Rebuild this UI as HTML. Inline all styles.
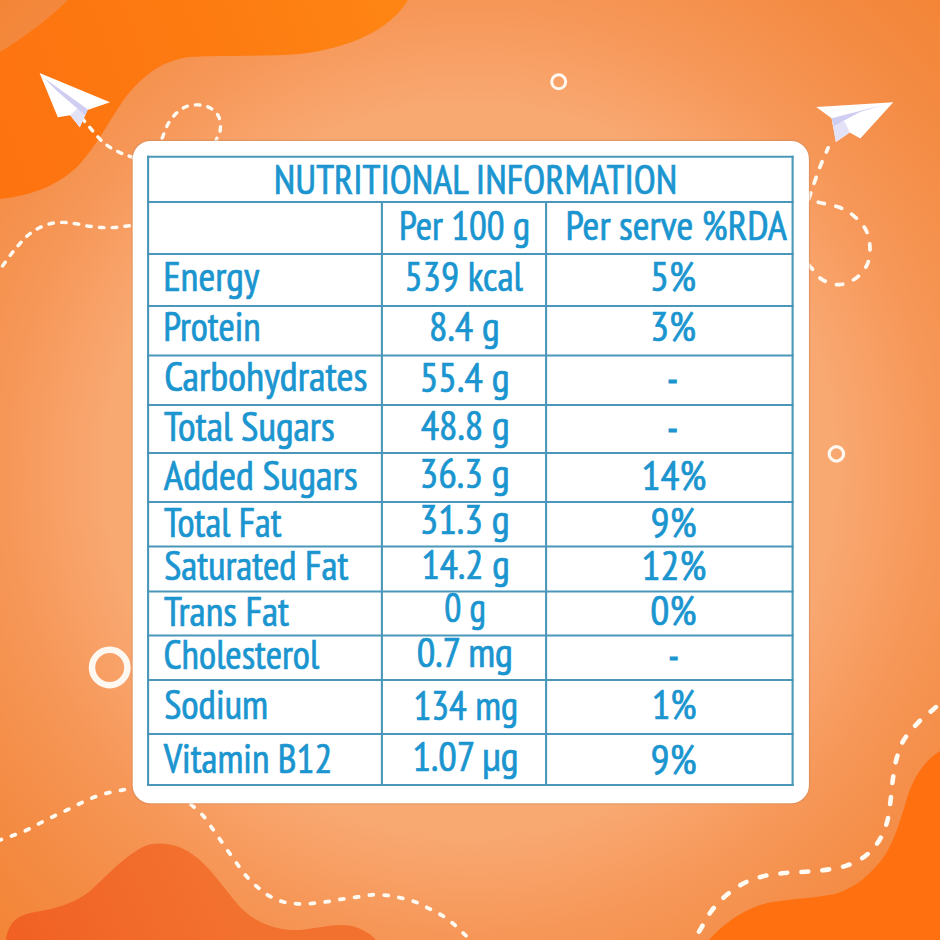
<!DOCTYPE html>
<html><head><meta charset="utf-8"><title>Nutritional Information</title>
<style>
html,body{margin:0;padding:0;width:940px;height:940px;overflow:hidden;background:#f59a5c;}
svg{display:block;}
.t text{font-family:'PT Sans Narrow', 'Liberation Sans', sans-serif;font-size:41.6px;fill:#1b95cf;stroke:#1b95cf;stroke-width:0.7px;}
</style></head><body>
<svg width="940" height="940" viewBox="0 0 940 940">
<defs>
<radialGradient id="bg" cx="470" cy="470" r="665" gradientUnits="userSpaceOnUse">
<stop offset="0" stop-color="#fab27e"/>
<stop offset="0.55" stop-color="#f8a871"/>
<stop offset="0.62" stop-color="#f8a066"/>
<stop offset="0.70" stop-color="#f69758"/>
<stop offset="0.85" stop-color="#f48c45"/>
<stop offset="1" stop-color="#f38536"/>
</radialGradient>
<linearGradient id="tl" x1="0" y1="150" x2="400" y2="0" gradientUnits="userSpaceOnUse">
<stop offset="0" stop-color="#fd7310"/><stop offset="0.5" stop-color="#fd7a11"/><stop offset="1" stop-color="#fe8514"/>
</linearGradient>
<linearGradient id="bl" x1="0" y1="940" x2="200" y2="850" gradientUnits="userSpaceOnUse">
<stop offset="0" stop-color="#f06022"/><stop offset="1" stop-color="#f3712f"/>
</linearGradient>
</defs>
<rect width="940" height="940" fill="url(#bg)"/>
<!-- blobs -->
<path fill="url(#tl)" d="M0 52 C20 40 45 22 68 0 L408 0 C390 30 350 48 300 54 C260 57 215 55 190 57 C160 60 138 80 123 101 C108 123 96 146 79 165 C60 184 35 195 0 199 Z"/>
<path fill="url(#bl)" d="M6 940 C8 925 15 915 35 912 C55 909 75 903 90 891 C105 878 125 855 145 846 C160 841 178 844 192 854 C210 866 225 890 240 907 C255 922 275 931 300 930 C320 928 335 923 352 926 C363 929 371 934 376 940 Z"/>
<path fill="#fe7010" d="M940 751 C925 760 914 777 908 795 C902 815 895 840 885 855 C872 874 855 888 835 894 C810 899 780 899 760 905 C740 912 722 925 709 940 L940 940 Z"/>
<!-- dashed paths -->
<g fill="none" stroke="#fffaf2" stroke-linecap="round">
<path stroke-width="3.4" stroke-dasharray="4.60 7.79" stroke-dashoffset="1.84" d="M82.9 119.4 C85.6 122.5 88.2 125.6 91.0 128.8 C93.8 132.0 96.6 135.8 99.6 138.8 C102.6 141.8 105.5 144.3 108.9 146.6 C112.3 148.9 116.3 150.9 120.0 152.6 C123.7 154.3 127.1 155.3 130.8 156.7 C134.5 158.1 138.5 159.6 142.4 161.1"/>
<path stroke-width="3.4" stroke-dasharray="4.60 7.95" stroke-dashoffset="2.24" d="M158.2 147.7 C159.8 143.9 161.3 140.2 162.9 136.3 C164.5 132.4 165.7 128.2 167.7 124.6 C169.7 121.0 172.2 117.4 175.1 114.5 C178.0 111.6 181.4 108.6 185.2 107.0 C189.0 105.4 193.8 104.7 198.0 104.9 C202.2 105.1 206.8 106.0 210.2 108.0 C213.6 110.0 217.0 113.0 218.7 116.6 C220.4 120.2 220.7 125.7 220.3 129.4 C220.0 133.1 218.0 135.5 216.6 139.0 C215.2 142.5 213.6 146.7 212.2 150.5"/>
<path stroke-width="3.4" stroke-dasharray="4.60 8.15" stroke-dashoffset="0.96" d="M-4.4 275.4 C-1.9 271.9 0.5 268.7 3.2 265.0 C5.9 261.3 9.2 256.6 12.0 253.0 C14.8 249.4 17.2 246.6 20.0 243.5 C22.8 240.4 25.5 237.3 28.7 234.7 C31.9 232.1 35.3 229.9 39.0 228.0 C42.7 226.1 46.9 224.4 51.0 223.5 C55.1 222.6 59.6 222.3 63.8 222.4 C68.0 222.5 72.2 223.2 76.4 223.8 C80.6 224.4 84.5 225.6 88.7 226.2 C92.9 226.8 97.2 227.3 101.5 227.5 C105.8 227.7 110.5 227.8 114.7 227.5 C119.0 227.2 122.8 226.5 127.0 226.0 C131.2 225.5 135.5 225.0 139.8 224.4"/>
<path stroke-width="3.7" stroke-dasharray="6.30 10.44" stroke-dashoffset="1.74" d="M828.2 147.8 C825.6 153.7 822.8 159.9 820.5 165.6 C818.2 171.3 816.3 177.0 814.6 181.8 C812.9 186.6 811.9 189.8 810.3 194.5 C808.7 199.2 806.7 205.0 805.0 210.3"/>
<path stroke-width="3.7" stroke-dasharray="6.30 11.56" stroke-dashoffset="3.45" d="M804.3 198.9 C810.0 200.2 815.6 201.6 821.4 203.0 C827.2 204.4 833.8 205.2 839.2 207.3 C844.6 209.4 849.3 212.1 853.7 215.8 C858.1 219.5 862.9 224.3 865.6 229.4 C868.3 234.5 869.6 240.6 869.9 246.4 C870.2 252.2 869.6 259.1 867.3 264.3 C865.0 269.6 860.9 274.5 856.2 277.9 C851.5 281.3 844.9 284.4 839.2 284.7 C833.5 285.0 826.9 282.4 822.2 279.6 C817.5 276.8 815.0 271.8 811.2 267.7 C807.4 263.6 803.2 259.1 799.2 254.8"/>
<path stroke-width="3.8" stroke-dasharray="4.00 10.82" stroke-dashoffset="3.41" d="M-13.2 844.7 C-8.6 843.1 -3.7 841.4 0.7 839.8 C5.1 838.2 9.1 836.9 13.4 835.3 C17.8 833.7 22.4 832.1 26.8 830.1 C31.2 828.1 35.1 825.6 39.5 823.4 C43.9 821.2 48.3 818.9 52.9 816.7 C57.5 814.5 62.4 812.2 67.0 810.0 C71.6 807.8 75.9 805.4 80.4 803.3 C84.9 801.2 89.2 799.0 93.8 797.3 C98.4 795.6 103.2 794.1 108.0 792.9 C112.8 791.7 118.0 790.9 122.9 789.9 C127.8 788.9 132.5 788.0 137.3 787.0"/>
<path stroke-width="3.8" stroke-dasharray="4.00 10.88" stroke-dashoffset="2.49" d="M182.1 795.9 C185.7 799.3 189.3 802.8 192.9 806.1 C196.5 809.4 200.2 812.3 203.4 816.0 C206.6 819.7 209.4 824.3 212.2 828.3 C215.0 832.3 217.6 836.0 220.4 840.0 C223.2 844.0 226.1 848.4 229.0 852.5 C231.9 856.6 234.7 860.5 237.6 864.5 C240.5 868.5 243.2 872.5 246.5 876.2 C249.8 879.9 253.4 883.6 257.1 886.8 C260.8 890.0 264.6 893.1 268.8 895.6 C273.1 898.1 277.8 900.3 282.6 901.7 C287.4 903.1 292.4 903.5 297.4 903.8 C302.3 904.1 307.3 903.8 312.3 903.4 C317.3 903.0 322.2 902.4 327.2 901.7 C332.2 901.0 337.1 899.9 342.1 899.1 C347.1 898.3 352.0 897.7 357.0 897.0 C362.0 896.3 367.0 895.1 371.9 894.8 C376.8 894.5 381.8 894.8 386.6 895.3 C391.4 895.8 395.9 896.8 400.6 897.9 C405.3 899.0 410.1 900.0 414.7 901.7 C419.3 903.4 423.6 905.9 428.1 908.1 C432.6 910.3 437.2 912.5 441.5 915.1 C445.8 917.8 449.8 920.8 453.6 924.0 C457.4 927.2 460.9 930.9 464.5 934.3 C468.1 937.7 471.7 941.1 475.3 944.5"/>
<path stroke-width="4.6" stroke-dasharray="6.90 14.13" stroke-dashoffset="3.22" d="M949.3 695.4 C944.0 700.0 938.8 704.5 933.5 709.2 C928.2 713.9 922.4 718.1 917.4 723.3 C912.4 728.5 907.0 734.6 903.5 740.5 C900.0 746.4 898.4 752.3 896.6 758.7 C894.8 765.1 893.9 772.1 892.9 779.0 C891.9 785.9 891.5 793.1 890.6 800.2 C889.7 807.3 889.1 814.7 887.2 821.5 C885.3 828.3 882.7 835.0 879.0 840.8 C875.3 846.6 870.6 852.0 865.2 856.1 C859.8 860.2 853.2 863.3 846.6 865.6 C840.0 867.9 832.6 868.9 825.6 869.9 C818.6 870.9 811.7 871.3 804.8 871.8 C797.9 872.3 790.9 872.2 784.0 873.0 C777.1 873.8 770.0 874.5 763.2 876.3 C756.4 878.0 749.5 880.3 743.3 883.5 C737.1 886.7 731.5 890.8 726.2 895.3 C720.9 899.8 715.9 905.0 711.7 910.6 C707.5 916.2 704.4 922.7 700.8 928.7 C697.2 934.7 693.6 940.7 690.0 946.7"/>
</g>
<!-- rings -->
<g fill="none" stroke="#fff8f0">
<circle cx="558.7" cy="81.8" r="7" stroke-width="3"/>
<circle cx="836.4" cy="453.9" r="7.2" stroke-width="3.2"/>
<circle cx="109.7" cy="667.5" r="17.7" stroke-width="6.5"/>
</g>
<!-- planes -->
<polygon fill="#ffffff" points="39.6,73.1 110,102.3 87.5,110 79.8,127.2 70.2,115.3 57.8,117.2"/>
<polygon fill="#e4e2f7" points="70.2,115.3 79.8,127.2 87.5,110 80,106"/>
<polygon fill="#cfcdf2" points="44,78 88,109.5 85,115 58,92"/>
<polygon fill="#ffffff" points="893.3,102.2 816.2,107 831.6,118.2 835.9,142.1 849.7,132.6 860.3,138.4"/>
<polygon fill="#e4e2f7" points="831.6,118.2 835.9,142.1 849.7,132.6 845,122"/>
<polygon fill="#cfcdf2" points="885,104.5 831.6,118.2 834,126 860,112"/>
<!-- card -->
<rect x="132.1" y="140.3" width="677.4" height="663.6" rx="18.6" ry="18.6" fill="none" stroke="#c98a5e" stroke-opacity="0.45" stroke-width="1.4"/>
<rect x="132.7" y="140.9" width="676.2" height="662.4" rx="18" ry="18" fill="#ffffff"/>
<g stroke="#4a97b9" stroke-width="2.1" fill="none">
<line x1="147.0" y1="156.8" x2="793.7" y2="156.8"/>
<line x1="147.0" y1="202.0" x2="793.7" y2="202.0"/>
<line x1="147.0" y1="254.0" x2="793.7" y2="254.0"/>
<line x1="147.0" y1="306.0" x2="793.7" y2="306.0"/>
<line x1="147.0" y1="355.5" x2="793.7" y2="355.5"/>
<line x1="147.0" y1="405.0" x2="793.7" y2="405.0"/>
<line x1="147.0" y1="453.0" x2="793.7" y2="453.0"/>
<line x1="147.0" y1="502.0" x2="793.7" y2="502.0"/>
<line x1="147.0" y1="546.5" x2="793.7" y2="546.5"/>
<line x1="147.0" y1="591.5" x2="793.7" y2="591.5"/>
<line x1="147.0" y1="635.5" x2="793.7" y2="635.5"/>
<line x1="147.0" y1="680.0" x2="793.7" y2="680.0"/>
<line x1="147.0" y1="734.0" x2="793.7" y2="734.0"/>
<line x1="147.0" y1="785.0" x2="793.7" y2="785.0"/>
<line x1="148.1" y1="155.7" x2="148.1" y2="786.1"/>
<line x1="792.6" y1="155.7" x2="792.6" y2="786.1"/>
<line x1="381.9" y1="202.0" x2="381.9" y2="785.0"/>
<line x1="546.1" y1="202.0" x2="546.1" y2="785.0"/>
</g>
<g class="t">
<text x="273.78" y="193.80" textLength="403.53" lengthAdjust="spacingAndGlyphs">NUTRITIONAL INFORMATION</text>
<text x="398.97" y="240.10" textLength="131.15" lengthAdjust="spacingAndGlyphs">Per 100 g</text>
<text x="565.49" y="240.00" textLength="221.41" lengthAdjust="spacingAndGlyphs">Per serve %RDA</text>
<text x="163.18" y="291.20" textLength="96.02" lengthAdjust="spacingAndGlyphs">Energy</text>
<text x="163.16" y="341.00" textLength="97.59" lengthAdjust="spacingAndGlyphs">Protein</text>
<text x="164.18" y="391.40" textLength="203.33" lengthAdjust="spacingAndGlyphs">Carbohydrates</text>
<text x="164.00" y="441.00" textLength="170.71" lengthAdjust="spacingAndGlyphs">Total Sugars</text>
<text x="163.69" y="490.20" textLength="194.03" lengthAdjust="spacingAndGlyphs">Added Sugars</text>
<text x="164.00" y="536.50" textLength="117.52" lengthAdjust="spacingAndGlyphs">Total Fat</text>
<text x="164.19" y="580.10" textLength="184.23" lengthAdjust="spacingAndGlyphs">Saturated Fat</text>
<text x="164.00" y="625.50" textLength="125.11" lengthAdjust="spacingAndGlyphs">Trans Fat</text>
<text x="163.49" y="669.00" textLength="155.72" lengthAdjust="spacingAndGlyphs">Cholesterol</text>
<text x="164.16" y="718.70" textLength="103.96" lengthAdjust="spacingAndGlyphs">Sodium</text>
<text x="163.69" y="773.30" textLength="168.63" lengthAdjust="spacingAndGlyphs">Vitamin B12</text>
<text x="404.56" y="290.80" textLength="118.44" lengthAdjust="spacingAndGlyphs">539 kcal</text>
<text x="429.04" y="340.60" textLength="70.65" lengthAdjust="spacingAndGlyphs">8.4 g</text>
<text x="419.63" y="391.60" textLength="90.04" lengthAdjust="spacingAndGlyphs">55.4 g</text>
<text x="420.67" y="439.60" textLength="88.98" lengthAdjust="spacingAndGlyphs">48.8 g</text>
<text x="419.46" y="488.40" textLength="90.31" lengthAdjust="spacingAndGlyphs">36.3 g</text>
<text x="419.46" y="534.30" textLength="90.31" lengthAdjust="spacingAndGlyphs">31.3 g</text>
<text x="421.52" y="578.70" textLength="88.24" lengthAdjust="spacingAndGlyphs">14.2 g</text>
<text x="444.34" y="622.30" textLength="41.70" lengthAdjust="spacingAndGlyphs">0 g</text>
<text x="416.68" y="667.00" textLength="96.24" lengthAdjust="spacingAndGlyphs">0.7 mg</text>
<text x="413.52" y="719.50" textLength="104.62" lengthAdjust="spacingAndGlyphs">134 mg</text>
<text x="412.41" y="771.30" textLength="106.17" lengthAdjust="spacingAndGlyphs">1.07 μg</text>
<text x="649.90" y="291.00" textLength="46.14" lengthAdjust="spacingAndGlyphs">5%</text>
<text x="649.90" y="340.80" textLength="46.14" lengthAdjust="spacingAndGlyphs">3%</text>
<text x="667.33" y="392.50" textLength="10.74" lengthAdjust="spacingAndGlyphs" style="stroke-width:1.2px">-</text>
<text x="667.33" y="441.70" textLength="10.74" lengthAdjust="spacingAndGlyphs" style="stroke-width:1.2px">-</text>
<text x="641.61" y="490.20" textLength="64.84" lengthAdjust="spacingAndGlyphs">14%</text>
<text x="650.64" y="536.50" textLength="45.92" lengthAdjust="spacingAndGlyphs">9%</text>
<text x="641.61" y="579.50" textLength="64.84" lengthAdjust="spacingAndGlyphs">12%</text>
<text x="650.36" y="625.30" textLength="46.19" lengthAdjust="spacingAndGlyphs">0%</text>
<text x="668.43" y="670.30" textLength="10.25" lengthAdjust="spacingAndGlyphs" style="stroke-width:1.2px">-</text>
<text x="651.66" y="718.70" textLength="44.91" lengthAdjust="spacingAndGlyphs">1%</text>
<text x="650.64" y="773.70" textLength="45.92" lengthAdjust="spacingAndGlyphs">9%</text>
</g>
</svg>
</body></html>
